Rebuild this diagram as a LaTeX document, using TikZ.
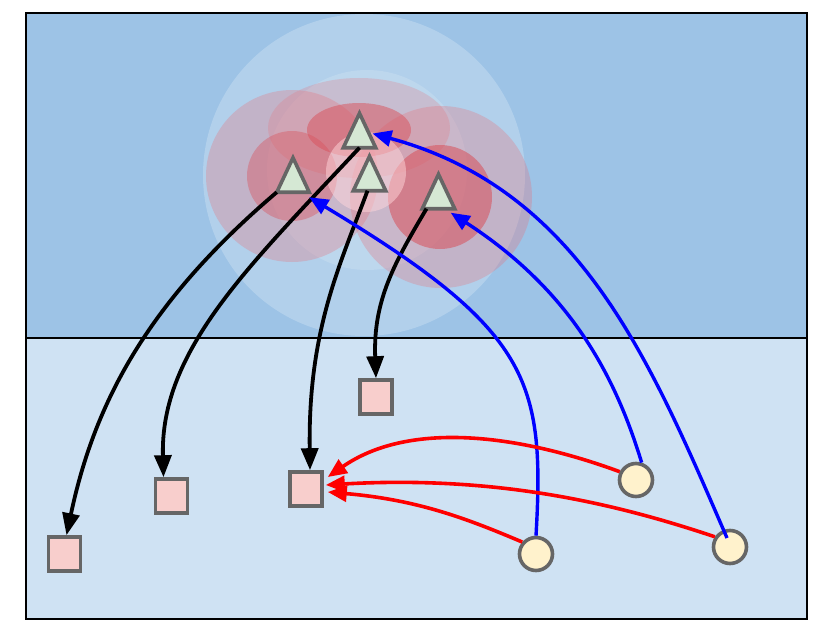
\documentclass[tikz,border=0pt]{standalone}
\usetikzlibrary{arrows.meta,calc}
\definecolor{bandtop}{HTML}{9DC3E6}
\definecolor{bandbot}{HTML}{CFE2F3}
\definecolor{strokegray}{HTML}{666666}
\definecolor{trifill}{HTML}{D5E8D4}
\definecolor{sqfill}{HTML}{F8CECC}
\definecolor{cifill}{HTML}{FFF2CC}
\definecolor{haloA}{HTML}{E8707A}
\definecolor{haloB}{HTML}{D9505A}
\definecolor{haloC}{HTML}{FFD6DA}
\begin{document}
\begin{tikzpicture}[x=1pt,y=-1pt,
  tri/.style={inner sep=0pt, minimum width=32pt, minimum height=34pt},
  tridraw/.style={draw=strokegray, fill=trifill, line width=3.6pt},
  sq/.style={draw=strokegray, fill=sqfill, line width=3.6pt, inner sep=0pt, minimum width=32pt, minimum height=34pt},
  circ/.style={circle, draw=strokegray, fill=cifill, line width=3.6pt, inner sep=0pt, minimum size=33pt},
  blk/.style={draw=black, line width=3.8pt, -{Triangle[length=22pt,width=17pt]}},
  blu/.style={draw=blue, line width=3.4pt, -{Triangle[length=19pt,width=16pt]}},
  rd/.style={draw=red, line width=3.6pt, -{Triangle[length=19pt,width=16pt]}},
  haloL/.style={fill=haloA, fill opacity=0.3},
  haloD/.style={fill=haloB, fill opacity=0.5},
  glow/.style={fill=white, fill opacity=0.22}]
\useasboundingbox (0,0) rectangle (830,642);
% bands
\fill[bandtop] (26,13) rectangle (807,338);
\fill[bandbot] (26,338) rectangle (807,619);
% halos
\fill[glow] (364,175) circle[radius=161pt];
\fill[glow, fill opacity=0.15] (367,170) circle[radius=100pt];
\fill[haloL] (292,176) circle[radius=86pt];
\fill[haloL] (441,197) circle[radius=91pt];
\fill[haloL, fill opacity=0.25] (359,128) ellipse[x radius=91pt, y radius=50pt];
\fill[haloD] (359,130) ellipse[x radius=52pt, y radius=27pt];
\fill[haloD, fill opacity=0.4] (292,176) circle[radius=45pt];
\fill[haloD, fill opacity=0.55] (440,197) circle[radius=52pt];
\fill[haloC, fill opacity=0.5] (366,172) circle[radius=40pt];
% frame
\draw[line width=1.6pt] (26,13) rectangle (807,619);
\draw[line width=1.4pt] (26,338) -- (807,338);
% nodes
\node[tri] (T1) at (359.5,130.5) {};
\node[tri] (T2) at (293,175) {};
\node[tri] (T3) at (369.5,173.5) {};
\node[tri] (T4) at (438.5,191.5) {};
\foreach \t in {T1,T2,T3,T4}
  \draw[tridraw] (\t.south west) -- (\t.north) -- (\t.south east) -- cycle;
\node[sq] (S1) at (64.5,554) {};
\node[sq] (S2) at (171.5,496) {};
\node[sq] (S3) at (306,489) {};
\node[sq] (S4) at (376,397) {};
\node[circ] (C1) at (636,480) {};
\node[circ] (C2) at (536,554) {};
\node[circ] (C3) at (730,547) {};
% black connectors
\draw[blk] (T2.south west) .. controls (150,300) and (95,400) .. ([xshift=2pt]S1.north);
\draw[blk] (T1.south) .. controls (250,265) and (160,350) .. ([xshift=-8pt]S2.north);
\draw[blk] ([xshift=-2pt]T3.south) .. controls (340,265) and (308,330) .. ([xshift=4pt]S3.north);
\draw[blk] ([xshift=-12pt]T4.south) .. controls (395,262) and (373,300) .. (S4.north);
% blue connectors
\draw[blu] (C1.72) .. controls (615,375) and (570,290) .. ($(T4.south east)+(-4,4)$);
\draw[blu] (C2.north) .. controls (545,380) and (530,330) .. ($(T2.south east)+(0,5)$);
\draw[blu] ($(C3)+(-3,-9)$) .. controls (650,360) and (580,190) .. ($(T1)+(13,3)$);
% red connectors
\draw[rd] (C1.153) .. controls (520,435) and (410,420) .. ($(S3.east)+(4,-12)$);
\draw[rd] (C3.146) .. controls (620,505) and (500,475) .. ($(S3.east)+(2,-4)$);
\draw[rd] (C2.139) .. controls (470,520) and (420,500) .. ($(S3.east)+(4,3)$);
\end{tikzpicture}
\end{document}
